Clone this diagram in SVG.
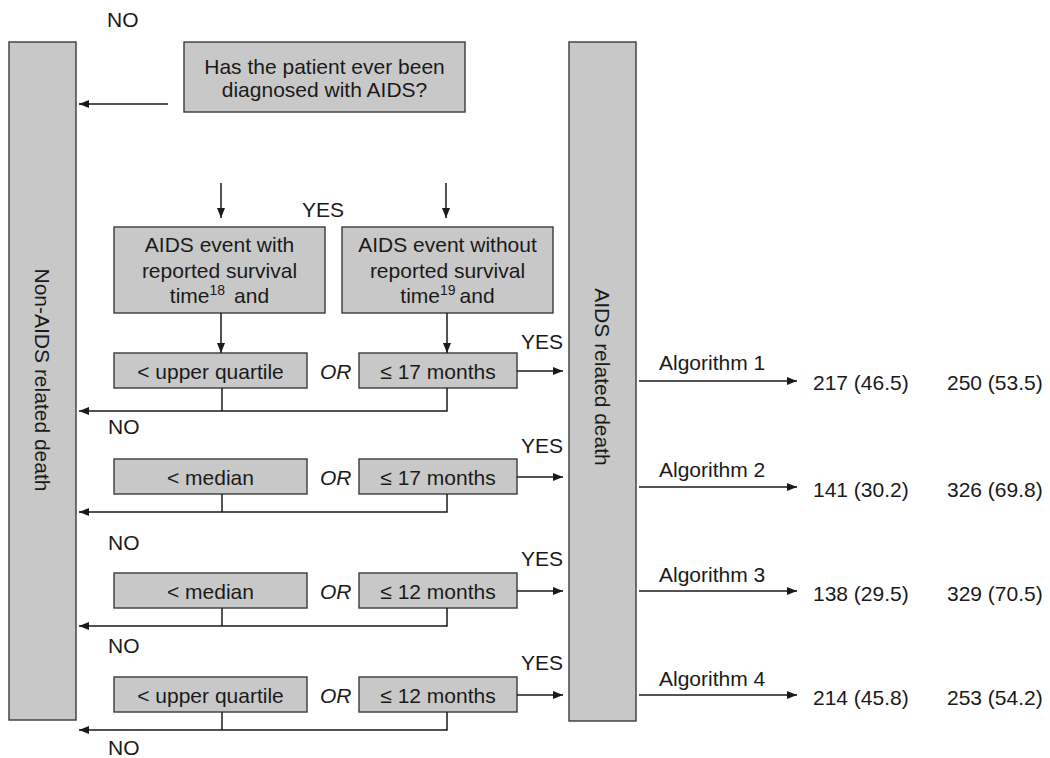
<svg xmlns="http://www.w3.org/2000/svg" width="1050" height="758" viewBox="0 0 1050 758">
<style>
.box{fill:#c8c8c8;stroke:#3a3a3a;stroke-width:1.4}
.t{font-family:"Liberation Sans",Arial,Helvetica,sans-serif;font-size:21px;fill:#1a1a1a}
.c{text-anchor:middle}
.i{font-style:italic}
.ln{stroke:#1a1a1a;stroke-width:1.5;fill:none}
.arr{marker-end:url(#ah)}
.sup{font-size:14px}
</style>
<defs>
<marker id="ah" viewBox="0 0 10 8" refX="10" refY="4" markerWidth="10" markerHeight="8" markerUnits="userSpaceOnUse" orient="auto">
<path d="M0,0 L10,4 L0,8 Z" fill="#1a1a1a"/>
</marker>
</defs>
<rect width="1050" height="758" fill="#ffffff"/>

<g id="non-aids-death">
<rect class="box" x="9" y="42" width="67" height="678"/>
<text class="t c" transform="translate(35,380) rotate(90)">Non-AIDS related death</text>
</g>

<g id="aids-death">
<rect class="box" x="569" y="42" width="67" height="679"/>
<text class="t c" transform="translate(595,377) rotate(90)">AIDS related death</text>
</g>

<g id="question">
<rect class="box" x="184" y="42" width="281" height="70"/>
<text class="t c" x="324.5" y="74">Has the patient ever been</text>
<text class="t c" x="324.5" y="97">diagnosed with AIDS?</text>
</g>

<g id="with-survival">
<rect class="box" x="114" y="227" width="211" height="86"/>
<text class="t c" x="219.5" y="252">AIDS event with</text>
<text class="t c" x="219.5" y="278">reported survival</text>
<text class="t c" x="219.5" y="303">time<tspan class="sup" dy="-8">18</tspan><tspan dy="8" dx="9">and</tspan></text>
</g>

<g id="without-survival">
<rect class="box" x="342" y="227" width="211" height="86"/>
<text class="t c" x="447.5" y="252">AIDS event without</text>
<text class="t c" x="447.5" y="278">reported survival</text>
<text class="t c" x="447.5" y="303">time<tspan class="sup" dy="-8">19</tspan><tspan dy="8" dx="4">and</tspan></text>
</g>

<g id="row1-quartile"><rect class="box" x="114" y="353" width="193" height="35"/><text class="t c" x="210.5" y="378.5">&lt; upper quartile</text></g>
<g id="row1-months"><rect class="box" x="359" y="353" width="158" height="35"/><text class="t c" x="438" y="378.5">≤ 17 months</text></g>

<g id="row2-median"><rect class="box" x="114" y="459" width="193" height="35"/><text class="t c" x="210.5" y="484.5">&lt; median</text></g>
<g id="row2-months"><rect class="box" x="359" y="459" width="158" height="35"/><text class="t c" x="438" y="484.5">≤ 17 months</text></g>

<g id="row3-median"><rect class="box" x="114" y="573" width="193" height="35"/><text class="t c" x="210.5" y="598.5">&lt; median</text></g>
<g id="row3-months"><rect class="box" x="359" y="573" width="158" height="35"/><text class="t c" x="438" y="598.5">≤ 12 months</text></g>

<g id="row4-quartile"><rect class="box" x="114" y="677" width="193" height="35"/><text class="t c" x="210.5" y="702.5">&lt; upper quartile</text></g>
<g id="row4-months"><rect class="box" x="359" y="677" width="158" height="35"/><text class="t c" x="438" y="702.5">≤ 12 months</text></g>

<g id="connectors">
<line class="ln arr" x1="168" y1="104" x2="79" y2="104"/>
<line class="ln arr" x1="221" y1="183" x2="221" y2="218"/>
<line class="ln arr" x1="446" y1="183" x2="446" y2="218"/>
<line class="ln arr" x1="221" y1="313" x2="221" y2="353"/>
<line class="ln arr" x1="447" y1="313" x2="447" y2="353"/>

<line class="ln arr" x1="517" y1="371" x2="563" y2="371"/>
<line class="ln arr" x1="517" y1="477" x2="563" y2="477"/>
<line class="ln arr" x1="517" y1="591" x2="563" y2="591"/>
<line class="ln arr" x1="517" y1="695" x2="563" y2="695"/>

<line class="ln" x1="222" y1="388" x2="222" y2="411"/>
<path class="ln arr" d="M447,388 V411 H79"/>
<line class="ln" x1="222" y1="494" x2="222" y2="512"/>
<path class="ln arr" d="M447,494 V512 H79"/>
<line class="ln" x1="222" y1="608" x2="222" y2="626"/>
<path class="ln arr" d="M447,608 V626 H79"/>
<line class="ln" x1="222" y1="712" x2="222" y2="730"/>
<path class="ln arr" d="M447,712 V730 H79"/>

<line class="ln arr" x1="639" y1="381" x2="797" y2="381"/>
<line class="ln arr" x1="639" y1="487" x2="797" y2="487"/>
<line class="ln arr" x1="639" y1="591" x2="797" y2="591"/>
<line class="ln arr" x1="639" y1="695" x2="797" y2="695"/>
</g>

<g id="labels">
<text class="t" x="107" y="27">NO</text>
<text class="t" x="302" y="217">YES</text>

<text class="t" x="521" y="349">YES</text>
<text class="t" x="521" y="453">YES</text>
<text class="t" x="521" y="566">YES</text>
<text class="t" x="521" y="670">YES</text>

<text class="t" x="108" y="434">NO</text>
<text class="t" x="108" y="550">NO</text>
<text class="t" x="108" y="653">NO</text>
<text class="t" x="108" y="755">NO</text>

<text class="t i" x="320" y="378.5">OR</text>
<text class="t i" x="320" y="484.5">OR</text>
<text class="t i" x="320" y="598.5">OR</text>
<text class="t i" x="320" y="702.5">OR</text>

<text class="t" x="659" y="370">Algorithm 1</text>
<text class="t" x="659" y="477">Algorithm 2</text>
<text class="t" x="659" y="582">Algorithm 3</text>
<text class="t" x="659" y="686">Algorithm 4</text>

<text class="t" x="813" y="390">217 (46.5)</text>
<text class="t" x="947" y="390">250 (53.5)</text>
<text class="t" x="813" y="497">141 (30.2)</text>
<text class="t" x="947" y="497">326 (69.8)</text>
<text class="t" x="813" y="601">138 (29.5)</text>
<text class="t" x="947" y="601">329 (70.5)</text>
<text class="t" x="813" y="705">214 (45.8)</text>
<text class="t" x="947" y="705">253 (54.2)</text>
</g>
</svg>
